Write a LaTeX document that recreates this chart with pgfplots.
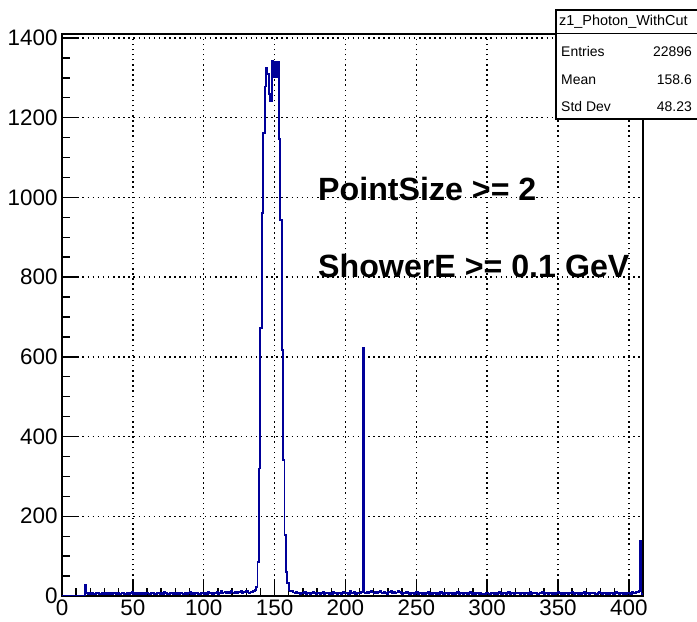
\documentclass[border=0pt]{standalone}
\usepackage{fontspec}
\setmainfont{Liberation Sans}
\usepackage{pgfplots}
\pgfplotsset{compat=1.18}
\definecolor{histblue}{rgb}{0,0,0.6}

\begin{document}
\begin{tikzpicture}[x=1bp,y=1bp]
\useasboundingbox (0,0) rectangle (697,622);
\begin{axis}[
  at={(62bp,26bp)}, anchor=south west,
  scale only axis, width=581bp, height=562bp,
  xmin=0, xmax=410, ymin=0, ymax=1410,
  xtick={0,50,...,400}, ytick={0,200,...,1400},
  minor x tick num=4, minor y tick num=3,
  tick align=inside, xtick pos=bottom, ytick pos=left,
  major tick length=16bp, minor tick length=8bp,
  grid=major,
  major grid style={black, line width=1.5bp, dash pattern=on 1.5bp off 3.6bp},
  axis line style={line width=1.6bp},
  every tick/.style={black, line width=1.4bp},
  tick label style={font=\fontsize{22.5}{26}\selectfont},
  yticklabel style={xshift=-1bp},
  /pgf/number format/assume math mode=true,
  /pgf/number format/1000 sep={},
]
\addplot[const plot mark left, histblue, line width=1.8bp, no marks] coordinates {
(0,0)(16,27)
(17,8)(18,6)(19,7)(20,5)(21,9)(22,6)(23,4)(24,7)(25,8)(26,5)
(27,6)(28,9)(29,5)(30,7)(31,4)(32,8)(33,6)(34,7)(35,5)(36,9)
(37,7)(38,5)(39,8)(40,6)(41,4)(42,7)(43,9)(44,6)(45,5)(46,8)
(47,6)(48,7)(49,10)(50,5)(51,8)(52,6)(53,7)(54,4)(55,9)(56,6)
(57,8)(58,5)(59,7)(60,9)(61,6)(62,4)(63,8)(64,7)(65,5)(66,6)
(67,9)(68,7)(69,5)(70,8)(71,6)(72,10)(73,7)(74,5)(75,6)(76,8)
(77,7)(78,4)(79,9)(80,6)(81,8)(82,5)(83,7)(84,9)(85,6)(86,5)
(87,8)(88,6)(89,7)(90,10)(91,5)(92,8)(93,6)(94,9)(95,7)(96,5)
(97,6)(98,8)(99,7)(100,5)(101,9)(102,6)(103,11)(104,7)(105,8)(106,6)
(107,9)(108,7)(109,10)(110,6)(111,8)(112,12)(113,7)(114,9)(115,11)(116,8)
(117,10)(118,7)(119,12)(120,9)(121,8)(122,11)(123,7)(124,10)(125,9)(126,13)
(127,8)(128,11)(129,10)(130,12)(131,9)(132,7)(133,11)(134,10)(135,13)(136,15)
(137,23)(138,86)(139,320)(140,672)(141,960)(142,1161)(143,1278)(144,1324)(145,1310)(146,1260)
(147,1241)(148,1343)(149,1303)(150,1341)(151,1303)(152,1341)(153,1146)(154,944)(155,617)(156,341)
(157,153)(158,61)(159,33)
(160,14)(161,12)(162,13)(163,9)(164,8)(165,10)(166,7)(167,9)(168,6)(169,8)
(170,7)(171,10)(172,6)(173,8)(174,9)(175,5)(176,7)(177,11)(178,8)(179,6)
(180,9)(181,7)(182,5)(183,8)(184,10)(185,6)(186,7)(187,9)(188,5)(189,8)
(190,6)(191,11)(192,7)(193,8)(194,5)(195,9)(196,7)(197,6)(198,10)(199,8)
(200,7)(201,9)(202,6)(203,12)(204,8)(205,7)(206,10)(207,6)(208,9)(209,8)(210,7)(211,10)
(212,622)
(213,9)(214,7)(215,11)(216,8)(217,10)(218,12)(219,9)(220,7)(221,11)(222,8)
(223,10)(224,13)(225,9)(226,7)(227,11)(228,8)(229,6)(230,10)(231,9)(232,12)
(233,8)(234,10)(235,7)(236,9)(237,13)(238,11)(239,8)(240,6)(241,9)(242,7)
(243,10)(244,8)(245,6)(246,9)(247,7)(248,5)(249,8)(250,10)(251,6)(252,7)
(253,9)(254,5)(255,8)(256,6)(257,7)(258,10)(259,6)(260,8)(261,5)(262,9)
(263,7)(264,6)(265,8)(266,5)(267,10)(268,7)(269,6)(270,9)(271,8)(272,5)
(273,7)(274,9)(275,6)(276,8)(277,5)(278,7)(279,10)(280,6)(281,8)(282,7)
(283,5)(284,9)(285,7)(286,6)(287,8)(288,10)(289,6)(290,7)(291,5)(292,9)
(293,8)(294,6)(295,7)(296,4)(297,6)(298,5)(299,7)(300,8)(301,6)(302,5)
(303,7)(304,9)(305,6)(306,8)(307,5)(308,10)(309,7)(310,6)(311,9)(312,8)
(313,6)(314,7)(315,10)(316,5)(317,8)(318,7)(319,6)(320,9)(321,7)(322,8)
(323,5)(324,7)(325,9)(326,6)(327,8)(328,7)(329,5)(330,10)(331,6)(332,8)
(333,7)(334,9)(335,6)(336,5)(337,8)(338,7)(339,10)(340,6)(341,7)(342,9)
(343,6)(344,8)(345,7)(346,5)(347,9)(348,6)(349,8)(350,10)(351,7)(352,6)
(353,8)(354,5)(355,7)(356,9)(357,6)(358,8)(359,7)(360,10)(361,6)(362,7)
(363,9)(364,5)(365,8)(366,6)(367,7)(368,10)(369,6)(370,8)(371,7)(372,5)
(373,8)(374,7)(375,9)(376,6)(377,5)(378,8)(379,10)(380,7)(381,6)(382,9)
(383,7)(384,5)(385,8)(386,6)(387,9)(388,7)(389,6)(390,8)(391,10)(392,7)
(393,6)(394,8)(395,7)(396,5)(397,9)(398,6)(399,8)(400,7)(401,6)(402,10)
(403,7)(404,8)(405,11)(406,9)(407,12)
(408,137)(409,5)(410,5)
};
\end{axis}
\node[anchor=base west, font=\bfseries\fontsize{32.3}{37}\selectfont, inner sep=0pt] at (318,421) {PointSize >= 2};
\node[anchor=base west, font=\bfseries\fontsize{32.3}{37}\selectfont, inner sep=0pt] at (318,344) {ShowerE >= 0.1 GeV};
\draw[line width=1.3bp, fill=white] (556,503) rectangle (698,612);
\draw[line width=1.3bp] (556,588.5) -- (698,588.5);
\node[anchor=west, font=\fontsize{14.5}{17}\selectfont, inner sep=0pt] at (559,600) {z1\_Photon\_WithCut};
\node[anchor=west, font=\fontsize{14}{17}\selectfont, inner sep=0pt] at (561,570) {Entries};
\node[anchor=east, font=\fontsize{14}{17}\selectfont, inner sep=0pt] at (692,570) {22896};
\node[anchor=west, font=\fontsize{14}{17}\selectfont, inner sep=0pt] at (561,542) {Mean};
\node[anchor=east, font=\fontsize{14}{17}\selectfont, inner sep=0pt] at (692,542) {158.6};
\node[anchor=west, font=\fontsize{14}{17}\selectfont, inner sep=0pt] at (561,515) {Std Dev};
\node[anchor=east, font=\fontsize{14}{17}\selectfont, inner sep=0pt] at (692,515) {48.23};
\end{tikzpicture}
\end{document}
